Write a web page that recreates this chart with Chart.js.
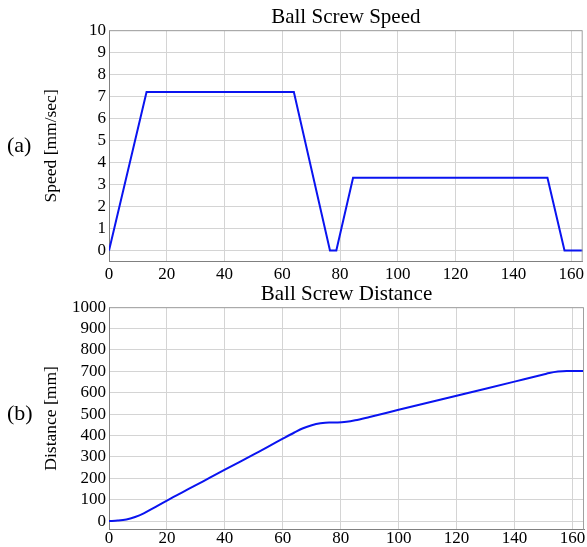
<!DOCTYPE html>
<html>
<head>
<meta charset="utf-8">
<script src="https://cdn.jsdelivr.net/npm/chart.js@4.4.0/dist/chart.umd.min.js"></script>
<style>
  html, body { margin: 0; padding: 0; background: #fff; overflow: hidden; }
  .wrap { position: absolute; left: 0; width: 587px; }
  .tag { position: absolute; left: 7px; font: 22px "Liberation Serif", serif; color: #000; }
</style>
</head>
<body>
<div class="wrap" style="top:0;height:288px"><canvas id="speedChart"></canvas></div>
<div class="wrap" style="top:281px;height:267px"><canvas id="distChart"></canvas></div>
<div class="tag" style="top:132px">(a)</div>
<div class="tag" style="top:400px">(b)</div>
<script>
// time [sec] vs ball screw speed [mm/sec]
const speedTime = [0, 13, 64, 76.5, 78.7, 84.5, 151.8, 157.7, 164];
const speedValues = [0, 7.2, 7.2, 0, 0, 3.3, 3.3, 0, 0];

// time [sec] vs ball screw distance [mm]
const distTime = [0, 3, 6, 9, 12, 15, 20, 25, 30, 35, 40, 45, 50, 55, 60, 64, 67, 70, 73, 76, 79, 82, 85, 90, 100, 110, 120, 130, 140, 150, 152, 155, 158, 164];
const distValues = [0, 2, 7, 19, 36, 58, 96, 132, 168, 204, 240, 276, 312, 348, 385, 414, 434, 448, 457, 461, 461, 464, 471, 487, 520, 553, 586, 619, 652, 685, 692, 699, 702, 702];

const xTicks = [0, 20, 40, 60, 80, 100, 120, 140, 160];
const speedTicks = [0, 1, 2, 3, 4, 5, 6, 7, 8, 9, 10];
const distTicks = [0, 100, 200, 300, 400, 500, 600, 700, 800, 900, 1000];

const FONT = "'Liberation Serif', 'Times New Roman', serif";

const frame = {
    id: "frame",
    afterDraw(chart) {
        const { ctx, chartArea: a } = chart;
        ctx.save();
        ctx.strokeStyle = "#a0a0a0";
        ctx.lineWidth = 1;
        ctx.beginPath();
        ctx.moveTo(a.left, a.top + 0.5);
        ctx.lineTo(a.right - 0.5, a.top + 0.5);
        ctx.lineTo(a.right - 0.5, a.bottom);
        ctx.stroke();
        ctx.restore();
    },
};

function makeChart(id, title, yTitle, xs, ys, yMin, yMax, yTickList, smooth, titleTop, xPad) {
    return new Chart(document.getElementById(id), {
        type: "line",
        data: {
            datasets: [
                {
                    data: xs.map((x, i) => ({ x: x, y: ys[i] })),
                    borderColor: "#0a14f0",
                    borderWidth: 2,
                    pointRadius: 0,
                    tension: smooth ? 0.4 : 0,
                    cubicInterpolationMode: smooth ? "monotone" : "default",
                },
            ],
        },
        options: {
            responsive: true,
            maintainAspectRatio: false,
            animation: false,
            layout: { padding: { left: 35, right: 3, top: 0, bottom: 0 } },
            plugins: {
                legend: { display: false },
                tooltip: { enabled: false },
                title: {
                    display: true,
                    fullSize: false,
                    text: title,
                    color: "#000",
                    font: { family: FONT, size: 21, weight: "normal" },
                    padding: { top: titleTop, bottom: 0 },
                },
            },
            scales: {
                x: {
                    type: "linear",
                    min: 0,
                    max: 164,
                    afterBuildTicks: (s) => {
                        s.ticks = xTicks.map((v) => ({ value: v }));
                    },
                    grid: { color: "#d4d4d4", drawTicks: false },
                    border: { color: "#808080" },
                    ticks: {
                        color: "#000",
                        padding: xPad,
                        autoSkip: false,
                        maxRotation: 0,
                        font: { family: FONT, size: 17 },
                        callback: (v) => String(v),
                    },
                },
                y: {
                    min: yMin,
                    max: yMax,
                    afterBuildTicks: (s) => {
                        s.ticks = yTickList.map((v) => ({ value: v }));
                    },
                    afterFit: (s) => {
                        s.width = 74;
                    },
                    grid: { color: "#d4d4d4", drawTicks: false },
                    border: { color: "#808080" },
                    ticks: {
                        color: "#000",
                        padding: 3,
                        autoSkip: false,
                        font: { family: FONT, size: 17 },
                        callback: (v) => String(v),
                    },
                    title: {
                        display: true,
                        text: yTitle,
                        color: "#000",
                        font: { family: FONT, size: 17.5 },
                        padding: { top: 6, bottom: 0 },
                    },
                },
            },
        },
        plugins: [frame],
    });
}

makeChart("speedChart", "Ball Screw Speed", "Speed [mm/sec]", speedTime, speedValues, -0.5, 10, speedTicks, false, 5, 3);
makeChart("distChart", "Ball Screw Distance", "Distance [mm]", distTime, distValues, -40, 1000, distTicks, true, 1, -1);
</script>
</body>
</html>
